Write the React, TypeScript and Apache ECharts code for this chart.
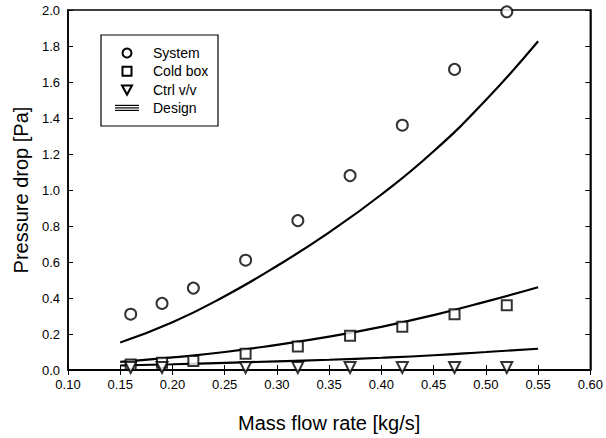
import React, { useEffect, useRef } from "react";
import * as echarts from "echarts";

const massFlow = [0.16, 0.19, 0.22, 0.27, 0.32, 0.37, 0.42, 0.47, 0.52];
const systemDp = [0.31, 0.37, 0.455, 0.61, 0.83, 1.08, 1.36, 1.67, 1.99];
const coldBoxDp = [0.03, 0.04, 0.05, 0.09, 0.13, 0.19, 0.24, 0.31, 0.36];
const ctrlFlow = [0.16, 0.19, 0.27, 0.32, 0.37, 0.42, 0.47, 0.52];
const ctrlDp = [0.014, 0.014, 0.014, 0.014, 0.014, 0.014, 0.014, 0.014];

const designFlow = [0.15, 0.2, 0.25, 0.3, 0.35, 0.4, 0.45, 0.5, 0.55];
const designSystem = [0.153, 0.265, 0.41, 0.578, 0.765, 0.975, 1.215, 1.5, 1.826];
const designColdBox = [0.045, 0.07, 0.1, 0.14, 0.185, 0.24, 0.305, 0.38, 0.46];
const designCtrl = [0.025, 0.032, 0.04, 0.048, 0.057, 0.068, 0.082, 0.1, 0.118];

const legendNames = ["System", "Cold box", "Ctrl v/v", "Design"];

const FONT = "Liberation Sans, Arial, sans-serif";

function pairs(xs: number[], ys: number[]) {
  return xs.map((x, i) => [x, ys[i]]);
}

export default function App() {
  const ref = useRef<HTMLDivElement>(null);
  useEffect(() => {
    if (!ref.current) return;
    const chart = echarts.init(ref.current, undefined, { renderer: "svg" });
    const markerStyle = { color: "#fff", borderColor: "#000", borderWidth: 2 };
    const lineStyle = { color: "#000", width: 2.2 };
    const tickStyle = { show: true, inside: true, length: 5, lineStyle: { color: "#000", width: 1 } };
    const legendX = 127;
    const legendY0 = 53;
    const legendDy = 18.3;
    const legendText = legendNames.map((n, i) => ({
      type: "text",
      x: 153,
      y: legendY0 + i * legendDy,
      style: { text: n, font: `14px ${FONT}`, fill: "#000", textVerticalAlign: "middle" },
    }));
    chart.setOption({
      animation: false,
      backgroundColor: "#fff",
      grid: { left: 68, right: 14, top: 10, bottom: 63, show: true, borderColor: "#000", borderWidth: 1.5, backgroundColor: "transparent" },
      xAxis: [
        {
          type: "value",
          min: 0.1,
          max: 0.6,
          interval: 0.05,
          name: "Mass flow rate [kg/s]",
          nameLocation: "middle",
          nameGap: 43,
          nameTextStyle: { fontFamily: FONT, fontSize: 20, color: "#000" },
          axisLine: { show: true, lineStyle: { color: "#000", width: 1.5 } },
          axisTick: tickStyle,
          axisLabel: { formatter: (v: number) => v.toFixed(2), fontFamily: FONT, fontSize: 13, color: "#000", margin: 8 },
          splitLine: { show: false },
        },
        {
          type: "value",
          position: "top",
          min: 0.1,
          max: 0.6,
          interval: 0.05,
          axisLine: { show: true, lineStyle: { color: "#000", width: 1.5 } },
          axisTick: tickStyle,
          axisLabel: { show: false },
          splitLine: { show: false },
        },
      ],
      yAxis: [
        {
          type: "value",
          min: 0,
          max: 2,
          interval: 0.2,
          name: "Pressure drop [Pa]",
          nameLocation: "middle",
          nameGap: 35,
          nameTextStyle: { fontFamily: FONT, fontSize: 20, color: "#000" },
          axisLine: { show: true, lineStyle: { color: "#000", width: 1.5 } },
          axisTick: tickStyle,
          axisLabel: { formatter: (v: number) => v.toFixed(1), fontFamily: FONT, fontSize: 13, color: "#000", margin: 8 },
          splitLine: { show: false },
        },
        {
          type: "value",
          position: "right",
          min: 0,
          max: 2,
          interval: 0.2,
          axisLine: { show: true, lineStyle: { color: "#000", width: 1.5 } },
          axisTick: tickStyle,
          axisLabel: { show: false },
          splitLine: { show: false },
        },
      ],
      series: [
        { name: "Design System", type: "line", smooth: true, showSymbol: false, data: pairs(designFlow, designSystem), lineStyle, z: 2 },
        { name: "Design Cold box", type: "line", smooth: true, showSymbol: false, data: pairs(designFlow, designColdBox), lineStyle, z: 2 },
        { name: "Design Ctrl", type: "line", smooth: true, showSymbol: false, data: pairs(designFlow, designCtrl), lineStyle, z: 2 },
        { name: "System", type: "scatter", symbol: "circle", symbolSize: 11, data: pairs(massFlow, systemDp), itemStyle: markerStyle, z: 3 },
        { name: "Cold box", type: "scatter", symbol: "rect", symbolSize: 10, data: pairs(massFlow, coldBoxDp), itemStyle: markerStyle, z: 3 },
        { name: "Ctrl v/v", type: "scatter", symbol: "triangle", symbolRotate: 180, symbolSize: 11, data: pairs(ctrlFlow, ctrlDp), itemStyle: markerStyle, z: 3 },
      ],
      graphic: [
        { type: "rect", shape: { x: 101, y: 35, width: 117, height: 91 }, style: { fill: "#fff", stroke: "#000", lineWidth: 1.2 }, z: 10 },
        { type: "circle", shape: { cx: legendX, cy: legendY0, r: 4.5 }, style: { fill: "#fff", stroke: "#000", lineWidth: 2 }, z: 11 },
        { type: "rect", shape: { x: legendX - 4.5, y: legendY0 + legendDy - 4.5, width: 9, height: 9 }, style: { fill: "#fff", stroke: "#000", lineWidth: 2 }, z: 11 },
        {
          type: "polygon",
          shape: { points: [[legendX - 5, legendY0 + 2 * legendDy - 4], [legendX + 5, legendY0 + 2 * legendDy - 4], [legendX, legendY0 + 2 * legendDy + 5]] },
          style: { fill: "#fff", stroke: "#000", lineWidth: 2 },
          z: 11,
        },
        ...[-2.5, 0, 2.5].map((d) => ({
          type: "line",
          shape: { x1: legendX - 12, y1: legendY0 + 3 * legendDy + d, x2: legendX + 12, y2: legendY0 + 3 * legendDy + d },
          style: { stroke: "#000", lineWidth: 1.2 },
          z: 11,
        })),
        ...legendText.map((t) => ({ ...t, z: 11 })),
      ],
    });
    return () => chart.dispose();
  }, []);
  return <div ref={ref} style={{ position: "fixed", left: 0, top: 0, width: 606, height: 438 }} />;
}
